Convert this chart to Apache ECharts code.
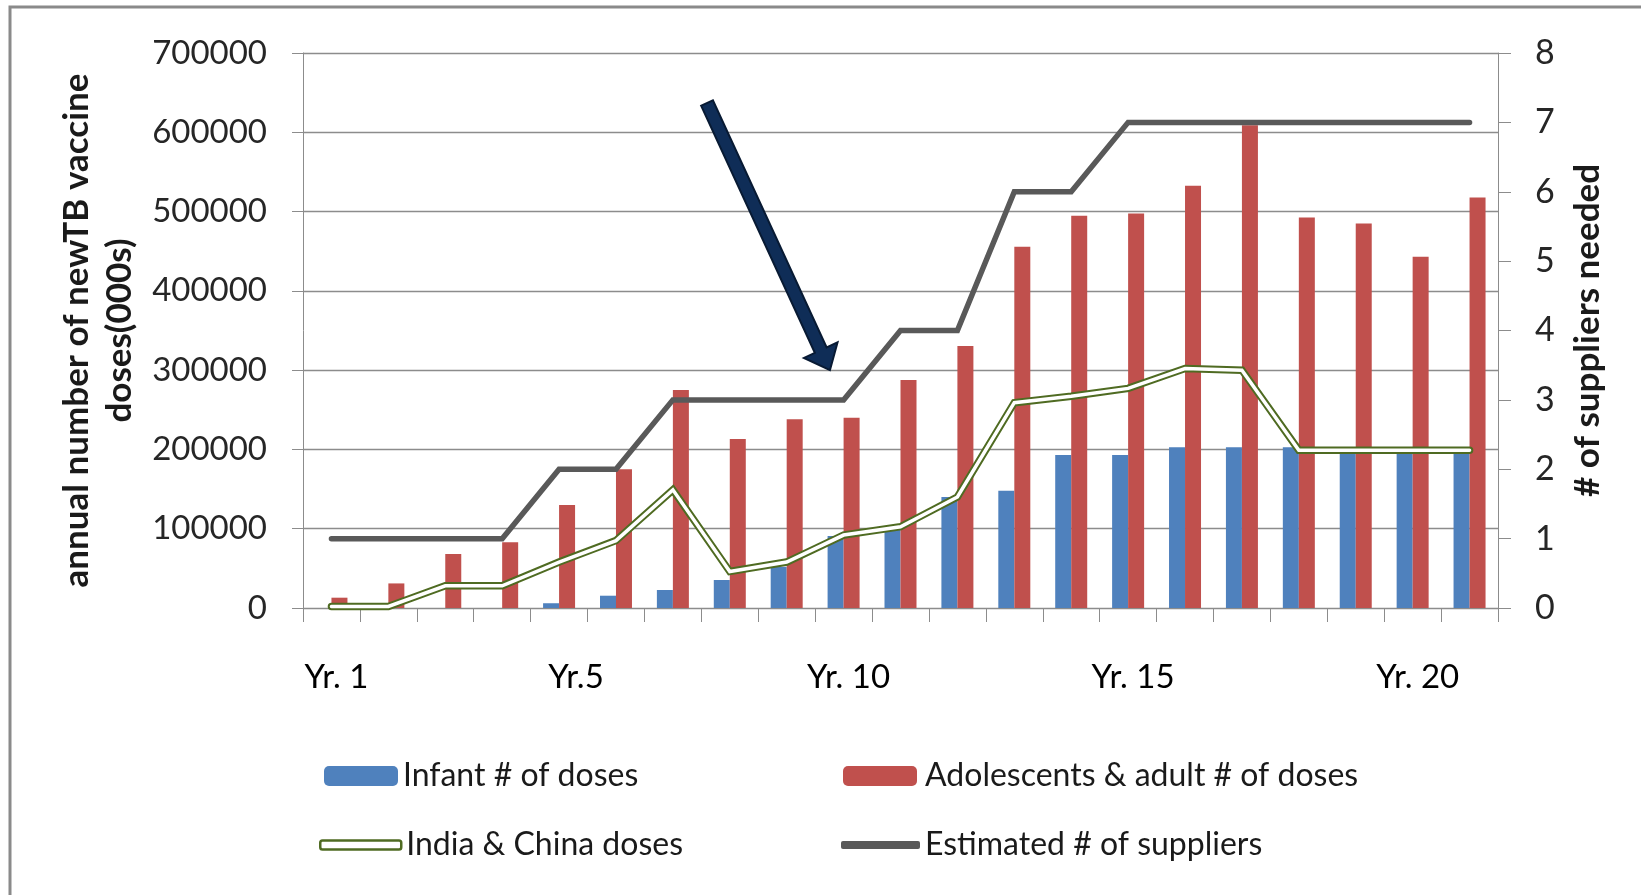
<!DOCTYPE html>
<html>
<head>
<meta charset="utf-8">
<script src="https://cdn.jsdelivr.net/npm/echarts@6/dist/echarts.min.js"></script>
<style>
  html, body { margin: 0; padding: 0; background: #ffffff; }
  #chart { width: 1641px; height: 895px; }
</style>
</head>
<body>
<div id="chart"></div>
<script>
// Years of the rollout
const years = ['Yr. 1', 'Yr. 2', 'Yr. 3', 'Yr. 4', 'Yr. 5', 'Yr. 6', 'Yr. 7', 'Yr. 8', 'Yr. 9', 'Yr. 10',
  'Yr. 11', 'Yr. 12', 'Yr. 13', 'Yr. 14', 'Yr. 15', 'Yr. 16', 'Yr. 17', 'Yr. 18', 'Yr. 19', 'Yr. 20', 'Yr. 21'];
// Only some years carry a label on the axis
const yearTickLabels = ['Yr. 1', '', '', '', 'Yr.5', '', '', '', '', 'Yr. 10',
  '', '', '', '', 'Yr. 15', '', '', '', '', 'Yr. 20', ''];

// Annual doses (000s)
const infantDoses = [0, 0, 0, 0, 6000, 15500, 22700, 35300, 52000, 90800,
  100000, 140000, 148000, 193000, 193000, 202600, 202600, 202600, 200000, 200000, 200000];
const adultDoses = [13000, 31000, 68000, 83000, 130000, 175000, 275000, 213000, 238000, 240000,
  287500, 330400, 455600, 494700, 497700, 532600, 609000, 492600, 485000, 443000, 517900];
const indiaChinaDoses = [2000, 2000, 28000, 28000, 58000, 85000, 149000, 46000, 58000, 92000,
  102500, 140000, 259000, 267000, 277000, 302000, 300000, 199000, 199000, 199000, 199000];
// Suppliers needed each year
const suppliers = [1, 1, 1, 1, 2, 2, 3, 3, 3, 3, 4, 4, 6, 6, 7, 7, 7, 7, 7, 7, 7];

// Axis ranges
const dosesAxisMin = 0, dosesAxisMax = 700000, dosesAxisStep = 100000;
const suppliersAxisMin = 0, suppliersAxisMax = 8, suppliersAxisStep = 1;

// Call-out arrow, anchored in data space (category index, doses)
const calloutFrom = [6.6, 637000];
const calloutTo = [8.76, 300000];

const FONT = 'Lato';
const GRID_GRAY = '#8c8c8c';
const TEXT = '#262626';

const chart = echarts.init(document.getElementById('chart'), null, { renderer: 'canvas' });

function legendBox(name, left, top, w, h, extra) {
  return Object.assign({
    show: true,
    selectedMode: false,
    orient: 'horizontal',
    left: left,
    top: top,
    padding: 0,
    itemWidth: w,
    itemHeight: h,
    data: [{ name: name }],
    textStyle: { fontFamily: FONT, fontSize: 32, color: '#1a1a1a' }
  }, extra || {});
}

const plainNumber = function (v) { return String(v); };

const option = {
  animation: false,
  backgroundColor: '#ffffff',
  grid: { left: 303, right: 143, top: 53, bottom: 287, containLabel: false },
  xAxis: {
    type: 'category',
    data: years,
    boundaryGap: true,
    axisLine: { show: true, lineStyle: { color: GRID_GRAY, width: 1 } },
    axisTick: { show: true, length: 14, interval: 0, lineStyle: { color: GRID_GRAY } },
    axisLabel: {
      interval: 0,
      margin: 53,
      fontFamily: FONT,
      fontSize: 33,
      color: '#000000',
      padding: [0, 0, 0, 10],
      formatter: function (v, i) {
        const t = yearTickLabels[i];
        return i === 4 ? '{wide|' + t + '}' : t;
      },
      rich: {
        wide: { fontFamily: FONT, fontSize: 33, color: '#000000', padding: [0, 0, 0, 24] }
      }
    },
    splitLine: { show: false }
  },
  yAxis: [
    {
      type: 'value',
      min: dosesAxisMin, max: dosesAxisMax, interval: dosesAxisStep,
      name: 'annual number of newTB vaccine\ndoses(000s)',
      nameLocation: 'middle',
      nameRotate: 90,
      nameGap: 158,
      nameTextStyle: { fontFamily: FONT, fontSize: 35, fontWeight: 'bold', color: '#1a1a1a', lineHeight: 43, align: 'center' },
      axisLine: { show: true, lineStyle: { color: GRID_GRAY, width: 1 } },
      axisTick: { show: true, length: 11, lineStyle: { color: GRID_GRAY } },
      axisLabel: { margin: 36, fontFamily: FONT, fontSize: 33, color: TEXT, formatter: plainNumber },
      splitLine: { show: true, lineStyle: { color: GRID_GRAY, width: 1.3 } }
    },
    {
      type: 'value',
      position: 'right',
      min: suppliersAxisMin, max: suppliersAxisMax, interval: suppliersAxisStep,
      name: '# of suppliers needed',
      nameLocation: 'middle',
      nameRotate: 90,
      nameGap: 72,
      nameTextStyle: { fontFamily: FONT, fontSize: 35, fontWeight: 'bold', color: '#1a1a1a' },
      axisLine: { show: true, lineStyle: { color: GRID_GRAY, width: 1 } },
      axisTick: { show: true, length: 13, lineStyle: { color: GRID_GRAY } },
      axisLabel: { margin: 37, fontFamily: FONT, fontSize: 34, color: TEXT, formatter: plainNumber },
      splitLine: { show: false }
    }
  ],
  legend: [
    legendBox('Infant # of doses', 324, 760, 74, 20),
    legendBox('Adolescents & adult # of doses', 843, 760, 74, 20,
      { textStyle: { fontFamily: FONT, fontSize: 32, color: '#1a1a1a', padding: [0, 0, 0, 3] } }),
    legendBox('India & China doses', 319, 829, 81, 9, {
      data: [{ name: 'India & China doses', icon: 'roundRect',
        itemStyle: { color: '#ffffff', borderColor: '#4f6b22', borderWidth: 2.5 } }]
    }),
    legendBox('Estimated # of suppliers', 841, 829, 79, 8, {
      data: [{ name: 'Estimated # of suppliers', icon: 'roundRect', itemStyle: { color: '#595959' } }]
    })
  ],
  series: [
    {
      name: 'Infant # of doses',
      type: 'bar',
      yAxisIndex: 0,
      data: infantDoses,
      barWidth: 16,
      barGap: '0%',
      itemStyle: { color: '#4f81bd' },
      z: 2
    },
    {
      name: 'Adolescents & adult # of doses',
      type: 'bar',
      yAxisIndex: 0,
      data: adultDoses,
      barWidth: 16,
      barGap: '0%',
      itemStyle: { color: '#c0504d' },
      z: 2
    },
    {
      name: 'India & China doses',
      type: 'line',
      yAxisIndex: 0,
      data: indiaChinaDoses,
      symbol: 'none',
      color: '#4f6b22',
      lineStyle: { color: '#4f6b22', width: 7.5, cap: 'round', join: 'miter' },
      z: 4
    },
    {
      name: 'India & China doses (inner)',
      type: 'line',
      yAxisIndex: 0,
      data: indiaChinaDoses,
      symbol: 'none',
      lineStyle: { color: '#ffffff', width: 3.5, cap: 'round', join: 'miter' },
      silent: true,
      z: 5
    },
    {
      name: 'Estimated # of suppliers',
      type: 'line',
      yAxisIndex: 1,
      data: suppliers,
      symbol: 'none',
      color: '#595959',
      lineStyle: { color: '#595959', width: 5.5, cap: 'round', join: 'miter' },
      z: 6
    }
  ]
};

chart.setOption(option);

// Map a (fractional category index, doses) pair to pixels
function toPixel(pt) {
  const i0 = Math.floor(pt[0]);
  const f = pt[0] - i0;
  const a = chart.convertToPixel({ xAxisIndex: 0 }, i0);
  const b = chart.convertToPixel({ xAxisIndex: 0 }, i0 + 1);
  const x = a + (b - a) * f;
  const y = chart.convertToPixel({ yAxisIndex: 0 }, pt[1]);
  return [x, y];
}

function arrowPolygon(from, to, shaft, headW, headL) {
  const dx = to[0] - from[0], dy = to[1] - from[1];
  const len = Math.sqrt(dx * dx + dy * dy);
  const ux = dx / len, uy = dy / len;
  const px = -uy, py = ux;
  const bx = to[0] - ux * headL, by = to[1] - uy * headL;
  const s = shaft / 2, h = headW / 2;
  return [
    [from[0] + px * s, from[1] + py * s],
    [bx + px * s, by + py * s],
    [bx + px * h, by + py * h],
    [to[0], to[1]],
    [bx - px * h, by - py * h],
    [bx - px * s, by - py * s],
    [from[0] - px * s, from[1] - py * s]
  ];
}

const tail = toPixel(calloutFrom);
const tip = toPixel(calloutTo);

chart.setOption({
  graphic: [
    {
      type: 'rect',
      silent: true,
      shape: { x: 10, y: 7, width: 1700, height: 1000 },
      style: { fill: 'none', stroke: '#8a8a8a', lineWidth: 3 },
      z: 0
    },
    {
      type: 'polygon',
      silent: true,
      shape: { points: arrowPolygon(tail, tip, 13, 37, 22) },
      style: { fill: '#0f2d57', stroke: '#081a33', lineWidth: 2, lineJoin: 'miter' },
      z: 100
    }
  ]
});
</script>
</body>
</html>
